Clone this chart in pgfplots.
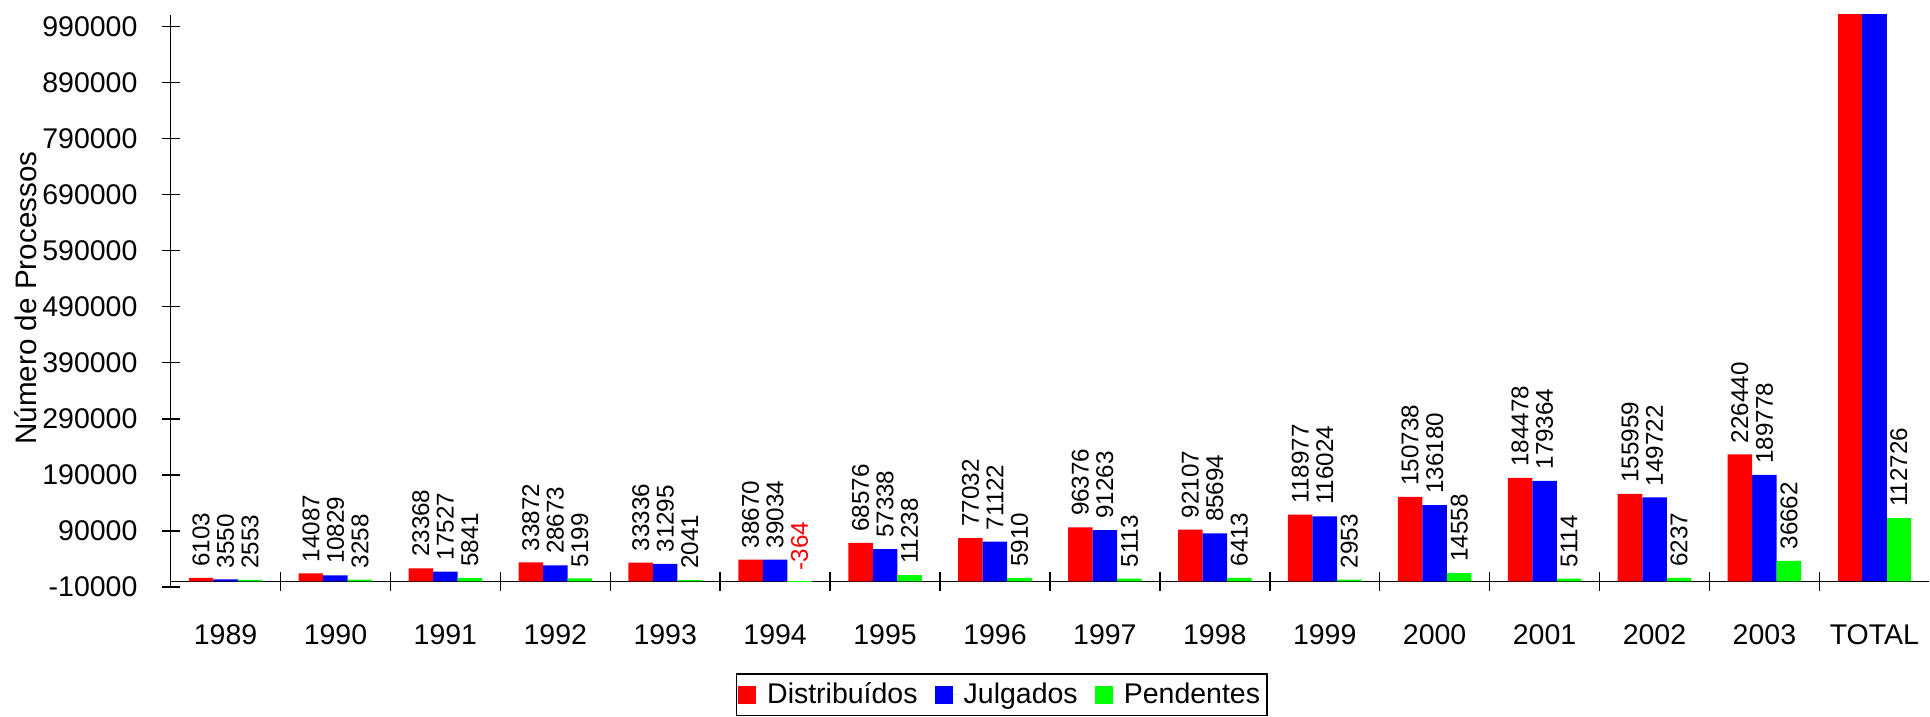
\documentclass[border=0pt]{standalone}
\usepackage{fontspec}
\setmainfont{Liberation Sans}
\usepackage{pgfplots}
\usepackage{pgfplotstable}
\pgfplotsset{compat=1.18}
\definecolor{cR}{RGB}{255,0,0}
\definecolor{cB}{RGB}{0,0,255}
\definecolor{cG}{RGB}{0,255,0}
\pgfplotstableread{
x d j
0 6103 3550
1 14087 10829
2 23368 17527
3 33872 28673
4 33336 31295
5 38670 39034
6 68576 57338
7 77032 71122
8 96376 91263
9 92107 85694
10 118977 116024
11 150738 136180
12 184478 179364
13 155959 149722
14 226440 189778
}\dj
\pgfplotstableread{
x p
0 2553
1 3258
2 5841
3 5199
4 2041
6 11238
7 5910
8 5113
9 6413
10 2953
11 14558
12 5114
13 6237
14 36662
15 112726
}\pend
\pgfplotstableread{
x p
5 -364
}\pendneg
\pgfplotstableread{
x d j
15 1320119 1207393
}\total
\pgfplotsset{
  sqlegend/.style={legend image code/.code={\fill[##1] (0pt,-3.15pt) rectangle (6.3pt,3.15pt); \path (0pt,0pt) -- (8.2pt,0pt);}}
}
\begin{document}
\begin{tikzpicture}
\path (-59.9pt,-44.7pt) rectangle (617.3pt,206.1pt);
\begin{axis}[
  at={(0,0)}, anchor=south west,
  scale only axis, width=617.5pt, height=200.9pt,
  ybar, bar width=0.223,
  xmin=-0.5, xmax=15.5, ymin=-10000, ymax=1010500,
  axis x line=middle, axis y line=left,
  axis line style={-, black, line width=0.5pt},
  tick style={black, line width=0.5pt},
  tick align=center,
  major tick length=6.3pt,
  minor tick length=6.7pt,
  xtick={0,...,15},
  xticklabels={1989,1990,1991,1992,1993,1994,1995,1996,1997,1998,1999,2000,2001,2002,2003,TOTAL},
  minor xtick={0.5,1.5,2.5,3.5,4.5,5.5,6.5,7.5,8.5,9.5,10.5,11.5,12.5,13.5,14.5},
  every major x tick/.append style={draw=none},
  ytick={-10000,90000,190000,290000,390000,490000,590000,690000,790000,890000,990000},
  scaled y ticks=false,
  /pgf/number format/.cd, fixed, precision=0, 1000 sep={}, assume math mode=true,
  /pgfplots/.cd,
  yticklabel style={anchor=east, inner sep=0pt, xshift=-8.3pt, font=\fontsize{10}{12}\selectfont},
  xticklabel style={anchor=north, inner sep=0pt, yshift=-11.9pt, font=\fontsize{10}{12}\selectfont},
  ylabel={Número de Processos},
  ylabel style={at={(axis description cs:-0.0825,0.505)}, anchor=center, font=\fontsize{10.4}{12}\selectfont},
  legend style={at={(axis description cs:0.4727,-0.1508)}, anchor=north, legend columns=-1,
    draw=black, line width=0.5pt, font=\fontsize{10}{12}\selectfont, inner sep=0.5pt,
    nodes={inner ysep=1.5pt, text height=8.2pt, text depth=2.4pt},
    /tikz/every even column/.append style={column sep=4pt}},
  every node near coord/.append style={rotate=90, anchor=west, inner sep=0pt, xshift=3.8pt, font=\fontsize{8.5}{10}\selectfont, text=black},
  point meta=explicit symbolic,
  clip=true,
]
\addplot[fill=cR, draw=none, bar shift=-0.223, sqlegend, nodes near coords] table[x=x, y=d, meta=d]{\dj};
\addlegendentry{Distribuídos}
\addplot[fill=cB, draw=none, bar shift=0, sqlegend, nodes near coords] table[x=x, y=j, meta=j]{\dj};
\addlegendentry{Julgados}
\addplot[fill=cG, draw=none, bar shift=0.223, sqlegend, nodes near coords] table[x=x, y=p, meta=p]{\pend};
\addlegendentry{Pendentes}
\addplot[fill=cG, draw=none, bar shift=0.223, forget plot, nodes near coords, every node near coord/.append style={text=cR}] table[x=x, y=p, meta=p]{\pendneg};
\addplot[fill=cR, draw=none, bar shift=-0.223, forget plot] table[x=x, y=d]{\total};
\addplot[fill=cB, draw=none, bar shift=0, forget plot] table[x=x, y=j]{\total};
\end{axis}
\end{tikzpicture}
\end{document}
